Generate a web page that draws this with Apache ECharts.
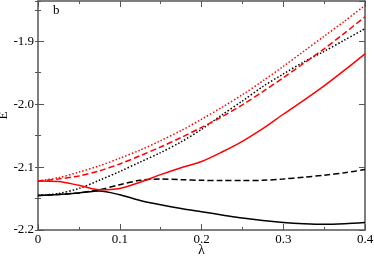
<!DOCTYPE html>
<html>
<head>
<meta charset="utf-8">
<script src="https://cdn.jsdelivr.net/npm/echarts@6/dist/echarts.min.js"></script>
<style>html,body{margin:0;padding:0;background:#fff}#c{width:374px;height:257px}</style>
</head>
<body>
<div id="c"></div>
<script>
const lambdas = [0, 0.025, 0.05, 0.075, 0.1, 0.125, 0.15, 0.175, 0.2, 0.225, 0.25, 0.275, 0.3, 0.325, 0.35, 0.375, 0.4];
const blackSolid  = [-2.145, -2.1435, -2.141, -2.138, -2.144, -2.153, -2.160, -2.166, -2.171, -2.176, -2.181, -2.185, -2.188, -2.190, -2.191, -2.190, -2.188];
const blackDashed = [-2.145, -2.1435, -2.141, -2.136, -2.128, -2.121, -2.119, -2.120, -2.121, -2.1215, -2.1215, -2.121, -2.119, -2.116, -2.113, -2.109, -2.104];
const blackDotted = [-2.145, -2.142, -2.134, -2.121, -2.107, -2.092, -2.077, -2.060, -2.040, -2.017, -1.995, -1.972, -1.952, -1.933, -1.916, -1.898, -1.880];
const redSolid    = [-2.122, -2.123, -2.129, -2.136, -2.134, -2.124, -2.112, -2.101, -2.091, -2.076, -2.059, -2.039, -2.016, -1.994, -1.971, -1.946, -1.920];
const redDashed   = [-2.122, -2.119, -2.114, -2.106, -2.095, -2.082, -2.068, -2.053, -2.037, -2.020, -2.001, -1.980, -1.958, -1.935, -1.912, -1.887, -1.861];
const redDotted   = [-2.122, -2.117, -2.108, -2.098, -2.086, -2.073, -2.058, -2.042, -2.024, -2.005, -1.985, -1.963, -1.940, -1.916, -1.892, -1.868, -1.843];
const xTicks = [0, 0.1, 0.2, 0.3, 0.4];
const yTicks = [-2.2, -2.1, -2.0, -1.9];
const panelLabel = 'b';
const xName = 'λ';
const yName = 'E';

const font = 'Liberation Serif';
const frame = '#555';
const pair = (ys) => lambdas.map((x, i) => [x, ys[i]]);

const yMin = -2.2, yMax = -1.836;
const xAxisBase = {
  type: 'value', min: 0, max: 0.4, interval: 0.1,
  splitLine: { show: false },
  axisLine: { show: true, onZero: false, lineStyle: { color: frame, width: 1.5 } },
  axisTick: { show: true, inside: true, length: 6, lineStyle: { color: frame, width: 1 } },
  minorTick: { show: true, splitNumber: 2, length: 3, lineStyle: { color: frame, width: 1 } },
};
const yMajorBase = {
  type: 'value', min: yMin, max: yMax, interval: 0.1,
  splitLine: { show: false },
  axisLine: { show: true, onZero: false, lineStyle: { color: frame, width: 1.5 } },
  axisTick: { show: true, inside: true, length: 6, lineStyle: { color: frame, width: 1 } },
};
const yMinorBase = {
  type: 'value', min: yMin, max: yMax, interval: 0.05,
  splitLine: { show: false },
  axisLine: { show: false },
  axisLabel: { show: false },
  axisTick: { show: true, inside: true, length: 3, lineStyle: { color: frame, width: 1 } },
};

const chart = echarts.init(document.getElementById('c'), null, { renderer: 'canvas' });
const lineSeries = (data, color, type) => ({
  type: 'line', data: pair(data), xAxisIndex: 0, yAxisIndex: 0,
  smooth: 0.3, showSymbol: false, symbol: 'none', animation: false,
  lineStyle: { color: color, width: 1.5, type: type }
});
chart.setOption({
  animation: false,
  backgroundColor: '#fff',
  grid: { left: 38, right: 9, top: 1, bottom: 27, containLabel: false, outerBoundsMode: 'none' },
  xAxis: [
    Object.assign({}, xAxisBase, {
      position: 'bottom',
      name: xName, nameLocation: 'middle', nameGap: 13, nameMoveOverlap: false,
      nameTextStyle: { fontFamily: font, fontSize: 14, color: '#000', verticalAlign: 'top' },
      axisLabel: {
        show: true, margin: 3, fontFamily: font, fontSize: 13, color: '#000',
        formatter: (v) => xTicks.some(t => Math.abs(t - v) < 1e-9) ? (v === 0 ? '0' : v.toFixed(1)) : ''
      }
    }),
    Object.assign({}, xAxisBase, { position: 'top', axisLabel: { show: false } })
  ],
  yAxis: [
    Object.assign({}, yMajorBase, {
      position: 'left',
      name: yName, nameLocation: 'middle', nameGap: 28, nameRotate: 90, nameMoveOverlap: false,
      nameTextStyle: { fontFamily: font, fontSize: 13, color: '#000' },
      axisLabel: {
        show: true, margin: 4, fontFamily: font, fontSize: 13, color: '#000',
        showMaxLabel: false,
        formatter: (v) => yTicks.some(t => Math.abs(t - v) < 1e-9) ? v.toFixed(1) : ''
      }
    }),
    Object.assign({}, yMajorBase, { position: 'right', axisLabel: { show: false } }),
    Object.assign({}, yMinorBase, { position: 'left' }),
    Object.assign({}, yMinorBase, { position: 'right' })
  ],
  graphic: [{
    type: 'text', left: 53, top: 4,
    style: { text: panelLabel, fontFamily: font, fontSize: 13, fill: '#000' }
  }],
  series: [
    lineSeries(blackSolid, '#000', 'solid'),
    lineSeries(blackDashed, '#000', [6, 3]),
    lineSeries(blackDotted, '#000', [1.5, 2]),
    lineSeries(redSolid, '#ff0000', 'solid'),
    lineSeries(redDashed, '#ff0000', [6, 3]),
    lineSeries(redDotted, '#ff0000', [1.5, 2])
  ]
});
</script>
</body>
</html>
